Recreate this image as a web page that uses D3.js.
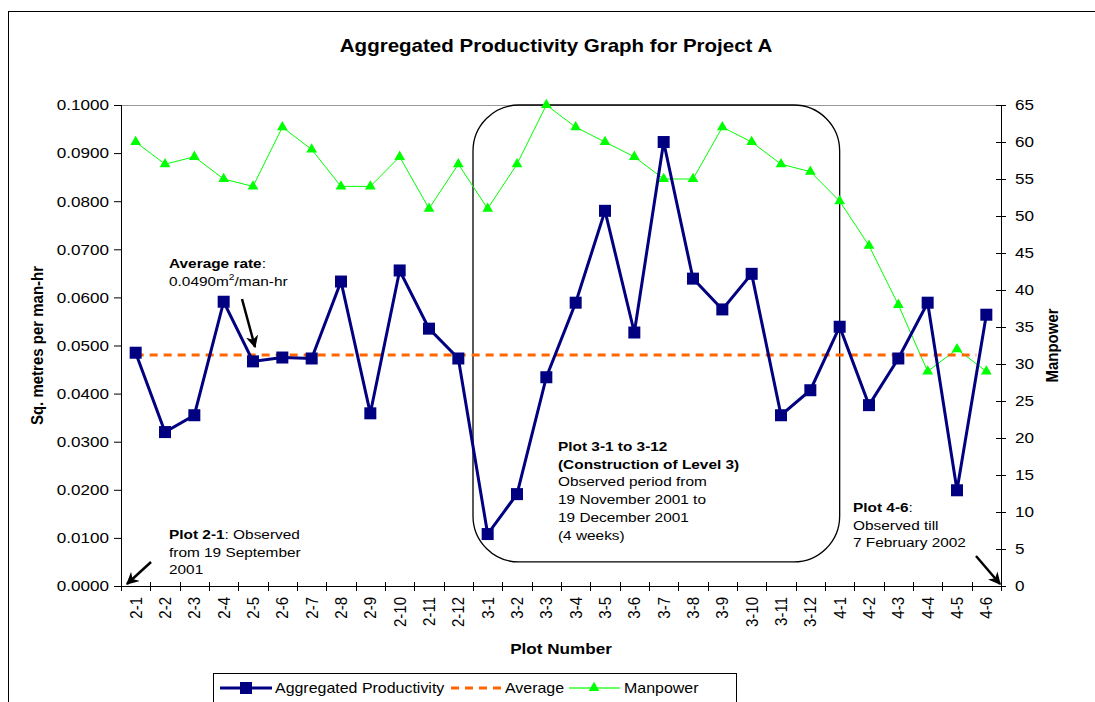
<!DOCTYPE html>
<html>
<head>
<meta charset="utf-8">
<script src="https://cdn.jsdelivr.net/npm/d3@7"></script>
<style>
  body { margin: 0; background: #fff; }
  svg { display: block; font-family: Arial, "Liberation Sans", sans-serif; }
</style>
</head>
<body>
<svg id="chart" width="1095" height="702"></svg>
<script>
// ---------- data ----------
const categories = ["2-1","2-2","2-3","2-4","2-5","2-6","2-7","2-8","2-9","2-10","2-11","2-12",
  "3-1","3-2","3-3","3-4","3-5","3-6","3-7","3-8","3-9","3-10","3-11","3-12",
  "4-1","4-2","4-3","4-4","4-5","4-6"];
const productivity = [0.0485,0.0320,0.0355,0.0591,0.0467,0.0475,0.0473,0.0633,0.0359,0.0656,0.0535,0.0473,
  0.0108,0.0191,0.0434,0.0589,0.0780,0.0527,0.0923,0.0639,0.0575,0.0649,0.0355,0.0407,
  0.0539,0.0376,0.0473,0.0589,0.0199,0.0564];
const manpower = [60,57,58,55,54,62,59,54,54,58,51,57,
  51,57,65,62,60,58,55,55,62,60,57,56,
  52,46,38,29,32,29];
const averageValue = 0.048;
const leftTicks = [0,0.01,0.02,0.03,0.04,0.05,0.06,0.07,0.08,0.09,0.1];
const rightTicks = [0,5,10,15,20,25,30,35,40,45,50,55,60,65];

// ---------- layout ----------
const SX = 1.14; // horizontal stretch of text in the original
const svg = d3.select("#chart");
const L = 121, R = 1001, T = 105, B = 586;

const x = d3.scaleBand().domain(categories).range([L, R]);
const yL = d3.scaleLinear().domain([0, 0.1]).range([B, T]);
const yR = d3.scaleLinear().domain([0, 65]).range([B, T]);
const cx = c => x(c) + x.bandwidth() / 2;

function hText(parent, tx, ty, size, txt, opts = {}) {
  const t = parent.append("text")
    .attr("transform", `translate(${tx},${ty}) scale(${SX},1)`)
    .attr("font-size", size).attr("text-anchor", opts.anchor || "start");
  if (opts.bold) t.attr("font-weight", "bold");
  if (txt != null) t.text(txt);
  return t;
}
function vText(parent, tx, ty, size, txt, opts = {}) {
  const t = parent.append("text")
    .attr("transform", `translate(${tx},${ty}) rotate(-90) scale(1,${SX})`)
    .attr("font-size", size).attr("text-anchor", opts.anchor || "middle");
  if (opts.bold) t.attr("font-weight", "bold");
  t.text(txt);
  return t;
}

// outer frame
svg.append("rect").attr("x", 8.5).attr("y", 11.5).attr("width", 1100).attr("height", 720)
  .attr("fill", "none").attr("stroke", "#000").attr("stroke-width", 1);

// title
hText(svg, 556, 52, 18, "Aggregated Productivity Graph for Project A", {anchor: "middle", bold: true});

// top border of plot area (gray)
svg.append("line").attr("x1", L).attr("x2", R).attr("y1", T + 0.5).attr("y2", T + 0.5)
  .attr("stroke", "#999").attr("stroke-width", 1);

// rounded rectangle annotation box (plots 3-1 to 3-12)
const boxX0 = x("3-1"), boxX1 = cx("4-1");
svg.append("rect").attr("x", boxX0).attr("y", yR(65)).attr("width", boxX1 - boxX0)
  .attr("height", yL(0.005) - yR(65)).attr("rx", 46).attr("ry", 46)
  .attr("fill", "none").attr("stroke", "#000").attr("stroke-width", 1.3);

// left axis
const axL = d3.axisLeft(yL).tickValues(leftTicks).tickFormat(d3.format(".4f")).tickSize(7).tickPadding(5);
const gL = svg.append("g").attr("transform", `translate(${L},0)`).call(axL);
gL.select(".domain").attr("stroke", "#000").attr("d", `M0.5,${T}V${B}`);
gL.selectAll(".tick line").attr("stroke", "#000");
gL.selectAll(".tick text").each(function() {
  const s = d3.select(this); const xx = +s.attr("x");
  s.attr("x", 0).attr("transform", `translate(${xx},0) scale(${SX},1)`)
   .attr("font-size", 15).attr("font-family", "Arial, 'Liberation Sans', sans-serif").attr("fill", "#000");
});

// right axis (cross ticks)
const axR = d3.axisRight(yR).tickValues(rightTicks).tickSize(5).tickPadding(9);
const gR = svg.append("g").attr("transform", `translate(${R},0)`).call(axR);
gR.select(".domain").attr("stroke", "#000").attr("d", `M0.5,${T}V${B}`);
gR.selectAll(".tick line").attr("x1", -5).attr("stroke", "#000");
gR.selectAll(".tick text").each(function() {
  const s = d3.select(this); const xx = +s.attr("x");
  s.attr("x", 0).attr("transform", `translate(${xx},0) scale(${SX},1)`)
   .attr("font-size", 15).attr("font-family", "Arial, 'Liberation Sans', sans-serif").attr("fill", "#000");
});

// x axis: line + cross ticks at band edges
const gX = svg.append("g");
gX.append("line").attr("x1", L).attr("x2", R).attr("y1", B + 0.5).attr("y2", B + 0.5).attr("stroke", "#000");
const edges = categories.map(c => x(c)).concat([R]);
gX.selectAll("line.tk").data(edges).join("line").attr("class", "tk")
  .attr("x1", d => Math.round(d) + 0.5).attr("x2", d => Math.round(d) + 0.5)
  .attr("y1", B - 4).attr("y2", B + 5).attr("stroke", "#000");
gX.selectAll("text.xl").data(categories).join("text").attr("class", "xl")
  .attr("transform", c => `translate(${cx(c) + 6},${B + 11}) rotate(-90) scale(1,${SX})`)
  .attr("text-anchor", "end").attr("font-size", 15).text(c => c);

// axis titles
vText(svg, 43, (T + B) / 2, 15, "Sq. metres per man-hr", {bold: true});
vText(svg, 1058, (T + B) / 2, 15, "Manpower", {bold: true});
hText(svg, 561, 654, 15, "Plot Number", {anchor: "middle", bold: true});

// manpower line (green)
const lineR = d3.line().x((d, i) => cx(categories[i])).y(d => yR(d));
svg.append("path").datum(manpower).attr("d", lineR).attr("fill", "none")
  .attr("stroke", "#00FF00").attr("stroke-width", 1);
const tri = d3.symbol().type(d3.symbolTriangle).size(50);
svg.selectAll("path.tri").data(manpower).join("path").attr("class", "tri")
  .attr("transform", (d, i) => `translate(${cx(categories[i])},${yR(d)})`)
  .attr("d", tri).attr("fill", "#00FF00");

// average dashed line
svg.append("line").attr("x1", cx(categories[0])).attr("x2", cx(categories[categories.length - 1]) - 10)
  .attr("y1", yL(averageValue)).attr("y2", yL(averageValue))
  .attr("stroke", "#FF6600").attr("stroke-width", 3).attr("stroke-dasharray", "8,6");

// productivity line (navy)
const lineL = d3.line().x((d, i) => cx(categories[i])).y(d => yL(d));
svg.append("path").datum(productivity).attr("d", lineL).attr("fill", "none")
  .attr("stroke", "#000080").attr("stroke-width", 3);
svg.selectAll("rect.sq").data(productivity).join("rect").attr("class", "sq")
  .attr("x", (d, i) => cx(categories[i]) - 6).attr("y", d => yL(d) - 6)
  .attr("width", 12).attr("height", 12).attr("fill", "#000080");

// arrows
const defs = svg.append("defs");
defs.append("marker").attr("id", "ah").attr("viewBox", "0 0 10 10").attr("refX", 9).attr("refY", 5)
  .attr("markerWidth", 5).attr("markerHeight", 5).attr("orient", "auto")
  .append("path").attr("d", "M0,0 L10,5 L0,10 L3,5 Z").attr("fill", "#000");
function arrow(x1, y1, x2, y2) {
  svg.append("line").attr("x1", x1).attr("y1", y1).attr("x2", x2).attr("y2", y2)
    .attr("stroke", "#000").attr("stroke-width", 2.5).attr("marker-end", "url(#ah)");
}
arrow(242, 299, 255, 347);
arrow(151, 562, 127, 584);
arrow(976, 556, 1000, 584);

// annotations
function textBlock(x0, y0, lines) {
  lines.forEach((ln, i) => {
    const t = hText(svg, x0, y0 + i * 17.7, 13.5, null);
    ln.forEach(seg => {
      const s = t.append("tspan").text(seg.t);
      if (seg.b) s.attr("font-weight", "bold");
      if (seg.sup) s.attr("font-size", 9).attr("dy", -6);
      if (seg.after) s.attr("dy", 6);
    });
  });
}
textBlock(169, 268, [
  [{t: "Average rate", b: true}, {t: ":"}],
  [{t: "0.0490m"}, {t: "2", sup: true}, {t: "/man-hr", after: true}]
]);
textBlock(169, 539, [
  [{t: "Plot 2-1", b: true}, {t: ": Observed"}],
  [{t: "from 19 September"}],
  [{t: "2001"}]
]);
textBlock(558, 451, [
  [{t: "Plot 3-1 to 3-12", b: true}],
  [{t: "(Construction of Level 3)", b: true}],
  [{t: "Observed period from"}],
  [{t: "19 November 2001 to"}],
  [{t: "19 December 2001"}],
  [{t: "(4 weeks)"}]
]);
textBlock(853, 512, [
  [{t: "Plot 4-6", b: true}, {t: ":"}],
  [{t: "Observed till"}],
  [{t: "7 February 2002"}]
]);

// legend
const lg = svg.append("g");
lg.append("rect").attr("x", 213.5).attr("y", 673.5).attr("width", 523).attr("height", 40)
  .attr("fill", "#fff").attr("stroke", "#000");
const ly = 688;
lg.append("line").attr("x1", 220).attr("x2", 272).attr("y1", ly).attr("y2", ly).attr("stroke", "#000080").attr("stroke-width", 3);
lg.append("rect").attr("x", 240).attr("y", ly - 6).attr("width", 12).attr("height", 12).attr("fill", "#000080");
hText(lg, 275, ly + 5, 14, "Aggregated Productivity");
lg.append("line").attr("x1", 451).attr("x2", 502).attr("y1", ly).attr("y2", ly).attr("stroke", "#FF6600").attr("stroke-width", 3).attr("stroke-dasharray", "8,6");
hText(lg, 505, ly + 5, 14, "Average");
lg.append("line").attr("x1", 569).attr("x2", 620).attr("y1", ly).attr("y2", ly).attr("stroke", "#66FF66").attr("stroke-width", 2);
lg.append("path").attr("transform", `translate(594,${ly})`).attr("d", tri).attr("fill", "#00FF00");
hText(lg, 624, ly + 5, 14, "Manpower");
</script>
</body>
</html>
